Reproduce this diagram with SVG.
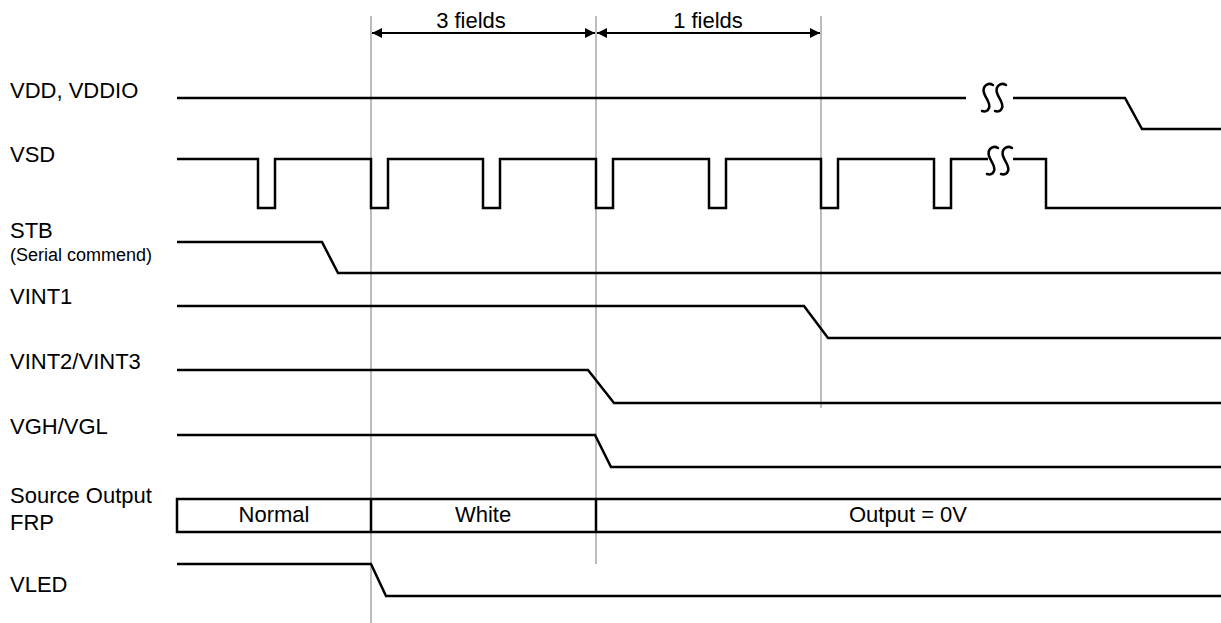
<svg xmlns="http://www.w3.org/2000/svg" width="1221" height="623" viewBox="0 0 1221 623">
<defs>
<style>
.sig{fill:none;stroke:#000;stroke-width:2.5;stroke-linejoin:miter}
.brk{fill:none;stroke:#000;stroke-width:2.5;stroke-linecap:round}
.grid{fill:none;stroke:#a6a6a6;stroke-width:1.5}
.dim{fill:none;stroke:#000;stroke-width:2}
.lbl{font-family:"Liberation Sans",Arial,sans-serif;font-size:22px;fill:#000}
.sm{font-size:18px}
.mid{text-anchor:middle}
</style>
<marker id="ahE" viewBox="0 0 10 10" refX="10" refY="5" markerWidth="10" markerHeight="10" markerUnits="userSpaceOnUse" orient="auto"><path d="M0,0 L10,5 L0,10 Z" fill="#000"/></marker>
<marker id="ahS" viewBox="0 0 10 10" refX="0" refY="5" markerWidth="10" markerHeight="10" markerUnits="userSpaceOnUse" orient="auto"><path d="M10,0 L0,5 L10,10 Z" fill="#000"/></marker>
<path id="brkS" class="brk" d="M11,2 C6,-1 0,3 2,10 C4,16 9,20 7,25 C6,28 3,29 0,28"/>
</defs>
<rect width="1221" height="623" fill="#fff"/>
<g id="guides">
<line class="grid" x1="371" y1="16" x2="371" y2="623"/>
<line class="grid" x1="596" y1="16" x2="596" y2="564"/>
<line class="grid" x1="821" y1="16" x2="821" y2="408"/>
</g>
<g id="connectors">
<line class="dim" x1="372" y1="33" x2="595" y2="33" marker-start="url(#ahS)" marker-end="url(#ahE)"/>
<line class="dim" x1="597" y1="33" x2="820" y2="33" marker-start="url(#ahS)" marker-end="url(#ahE)"/>
<text class="lbl mid" x="471" y="28">3 fields</text>
<text class="lbl mid" x="708" y="28">1 fields</text>
</g>
<g id="vdd">
<text class="lbl" x="10" y="98">VDD, VDDIO</text>
<path class="sig" d="M177,98 H966 M1013,98 H1125 L1142,129 H1221"/>
<use href="#brkS" x="982" y="83"/>
<use href="#brkS" x="995" y="83"/>
</g>
<g id="vsd">
<text class="lbl" x="10" y="162">VSD</text>
<path class="sig" d="M177,159 H258 V208 H275 V159 H371 V208 H388 V159 H483 V208 H500 V159 H596 V208 H613 V159 H709 V208 H726 V159 H821 V208 H838 V159 H934 V208 H951 V159 H988 M1013,159 H1046 V208 H1221"/>
<use href="#brkS" x="987" y="146"/>
<use href="#brkS" x="1001" y="146"/>
</g>
<g id="stb">
<text class="lbl" x="10" y="238">STB</text>
<text class="lbl sm" x="10" y="261">(Serial commend)</text>
<path class="sig" d="M177,242 H322 L338,273 H1221"/>
</g>
<g id="vint1">
<text class="lbl" x="10" y="304">VINT1</text>
<path class="sig" d="M177,306 H804 L828,338 H1221"/>
</g>
<g id="vint23">
<text class="lbl" x="10" y="369">VINT2/VINT3</text>
<path class="sig" d="M177,370 H588 L614,403 H1221"/>
</g>
<g id="vgh">
<text class="lbl" x="10" y="434">VGH/VGL</text>
<path class="sig" d="M177,435 H595 L611,467 H1221"/>
</g>
<g id="source">
<text class="lbl" x="10" y="503">Source Output</text>
<text class="lbl" x="10" y="530">FRP</text>
<path class="sig" d="M1221,499 H177 V532 H1221 M371,499 V532 M596,499 V532"/>
<text class="lbl mid" x="274" y="522">Normal</text>
<text class="lbl mid" x="483" y="522">White</text>
<text class="lbl mid" x="908" y="522">Output = 0V</text>
</g>
<g id="vled">
<text class="lbl" x="10" y="592">VLED</text>
<path class="sig" d="M177,564 H371 L386,596 H1221"/>
</g>
</svg>
